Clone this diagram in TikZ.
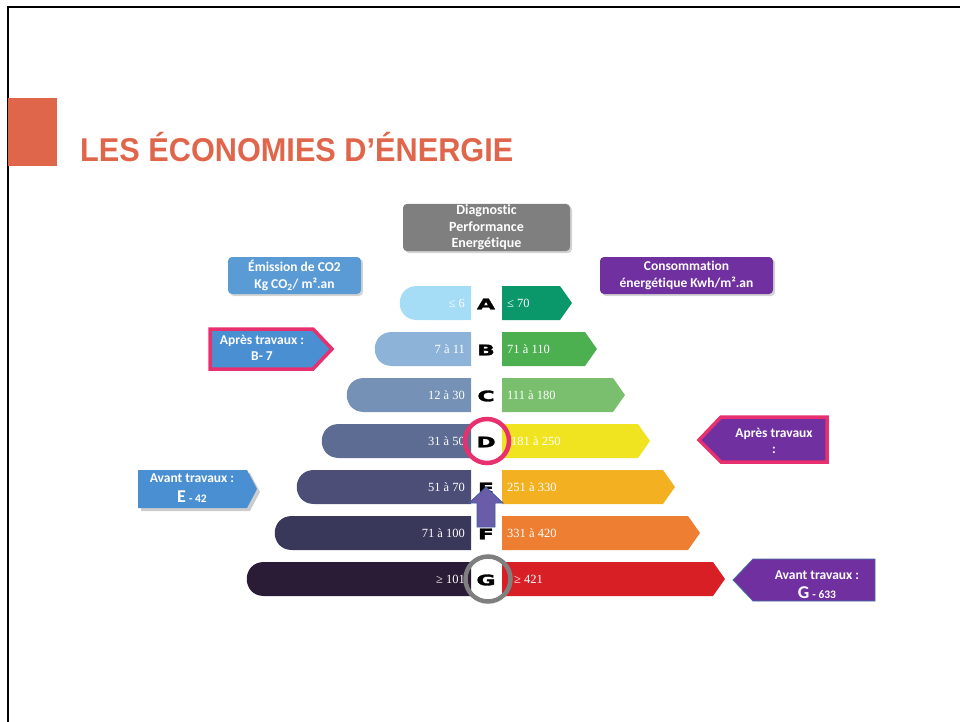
\documentclass[tikz,border=0pt]{standalone}
\usepackage{fontspec}
\setmainfont{Liberation Serif}
\newfontfamily\calibri[Ligatures=NoCommon]{Carlito}
\newfontfamily\arial{Liberation Sans}
\newfontfamily\lettres[FakeBold=2]{DejaVu Sans}
\usetikzlibrary{positioning}
\usetikzlibrary{shadows}

\definecolor{titre}{HTML}{E0664B}
\definecolor{dpegris}{HTML}{7F7F7F}
\definecolor{bleuco}{HTML}{5B9BD5}
\definecolor{violetdpe}{HTML}{7030A0}
\definecolor{rose}{HTML}{E8306E}
\definecolor{bleuapres}{HTML}{4A8FD2}
\definecolor{bleugris}{HTML}{41719C}
\definecolor{violetfleche}{HTML}{6B5CAA}
\definecolor{bleufleche}{HTML}{3F5E9E}
\definecolor{coA}{HTML}{A5DCF6}
\definecolor{coB}{HTML}{8DB4D8}
\definecolor{coC}{HTML}{7591B5}
\definecolor{coD}{HTML}{5D6C93}
\definecolor{coE}{HTML}{4D4E78}
\definecolor{coF}{HTML}{39375A}
\definecolor{coG}{HTML}{2A1C36}
\definecolor{enA}{HTML}{0A986B}
\definecolor{enB}{HTML}{4CAF50}
\definecolor{enC}{HTML}{79BF6D}
\definecolor{enD}{HTML}{F0E420}
\definecolor{enE}{HTML}{F3B122}
\definecolor{enF}{HTML}{EE7F32}
\definecolor{enG}{HTML}{D81F26}

\begin{document}
\begin{tikzpicture}[x=1pt, y=-1pt,
		entete/.style={rounded corners=4pt, text=white, align=center, inner sep=1pt,
			font=\calibri\bfseries\fontsize{13.5}{16.5}\selectfont,
			drop shadow={opacity=0.35, shadow xshift=2pt, shadow yshift=-2pt}},
		valeur/.style={text=white, inner sep=0pt, font=\fontsize{12.5}{13}\selectfont},
		bulle/.style={text=white, inner sep=0pt, font=\calibri\bfseries\fontsize{13.5}{16}\selectfont}]
	\useasboundingbox (0,0) rectangle (960,722);
	\draw[black, line width=2pt] (8,722)--(8,7)--(960,7);
	\fill[titre] (8,98) rectangle (57,166);
	\node[anchor=base west, inner sep=0pt, text=titre, xscale=0.93,
		font=\arial\bfseries\fontsize{33}{36}\selectfont] (titre) at (80,162) {LES ÉCONOMIES D’ÉNERGIE};

	\node[entete, fill=dpegris, minimum width=167pt, minimum height=47pt, font=\calibri\bfseries\fontsize{14}{16.5}\selectfont] (dpe) at (486.5,227.5) {Diagnostic\\Performance\\Energétique};
	\node[entete, fill=bleuco, minimum width=133pt, minimum height=37pt] (emission) at (294.5,275.5) {Émission de CO2\\Kg CO\textsubscript{2}/ m².an};
	\node[entete, fill=violetdpe, minimum width=173pt, minimum height=37pt] (conso) at (686.5,275.5) {Consommation\\énergétique Kwh/m².an};

	\foreach \py/\xg/\xd/\xt/\cg/\cd/\tg/\td/\lettre in {303/400/572/507/coA/enA/≤ 6/≤ 70/A,
			349/375/597/507/coB/enB/7 à 11/71 à 110/B, 395/347/625/507/coC/enC/12 à 30/111 à 180/C,
			441/322/650/511/coD/enD/31 à 50/181 à 250/D, 487/297/675/507/coE/enE/51 à 70/251 à 330/E,
			533/275/700/507/coF/enF/71 à 100/331 à 420/F, 579/247/725/514/coG/enG/≥ 101/≥ 421/G}{
		\fill[\cg] (471,\py-17)--(\xg+17,\py-17) .. controls (\xg-6,\py-17) and (\xg-6,\py+17) .. (\xg+17,\py+17)--(471,\py+17)--cycle;
		\fill[\cd] (502,\py-17)--(\xd-12,\py-17)--(\xd,\py)--(\xd-12,\py+17)--(502,\py+17)--cycle;
		\node[valeur, anchor=east] (co\lettre) at (465,\py) {\tg};
		\node[valeur, anchor=west] (en\lettre) at (\xt,\py) {\td};
		\node[inner sep=0pt, xscale=1.6, font=\lettres\bfseries\fontsize{14.5}{15}\selectfont] (classe\lettre) at (486,\py+1) {\lettre};
	}

	\node[draw=rose, line width=4.5pt, circle, minimum size=44pt] (cercleD) at (487,441) {};
	\node[draw=dpegris, line width=4.5pt, circle, minimum size=45pt] (cercleG) at (488,579) {};
	\filldraw[fill=violetfleche, draw=bleufleche, line width=0.8pt] (486,487)--(503,503)--(495,503)--(495,527)--(477,527)--(477,503)--(469,503)--cycle;

	\filldraw[fill=bleuapres, draw=rose, line width=3.5pt] (210,329)--(313,329)--(332,349)--(313,369)--(210,369)--cycle;
	\node[bulle, align=center] (apresB) at (262,348) {Après travaux :\\B- 7};

	\filldraw[fill=violetdpe, draw=rose, line width=3.5pt] (699,440)--(721,417)--(827,417)--(827,462)--(721,462)--cycle;
	\node[bulle, align=center] (apresD) at (774,441) {Après travaux\\:};

	\fill[bleuapres, drop shadow={opacity=0.4, shadow xshift=3pt, shadow yshift=-3pt}] (138,470)--(247,470)--(257,489)--(247,508)--(138,508)--cycle;
	\node[bulle] (avantE) at (192,478) {Avant travaux :};
	\node[bulle] (avantEval) at (192,497) {{\fontsize{18}{18}\selectfont E} {\fontsize{11.5}{12}\selectfont - 42}};

	\filldraw[fill=violetdpe, draw=bleugris, line width=0.8pt] (733,580)--(753,559)--(875,559)--(875,601)--(753,601)--cycle;
	\node[bulle] (avantG) at (817,575) {Avant travaux :};
	\node[bulle] (avantGval) at (817,593) {{\fontsize{18}{18}\selectfont G} {\fontsize{11.5}{12}\selectfont - 633}};
\end{tikzpicture}
\end{document}
